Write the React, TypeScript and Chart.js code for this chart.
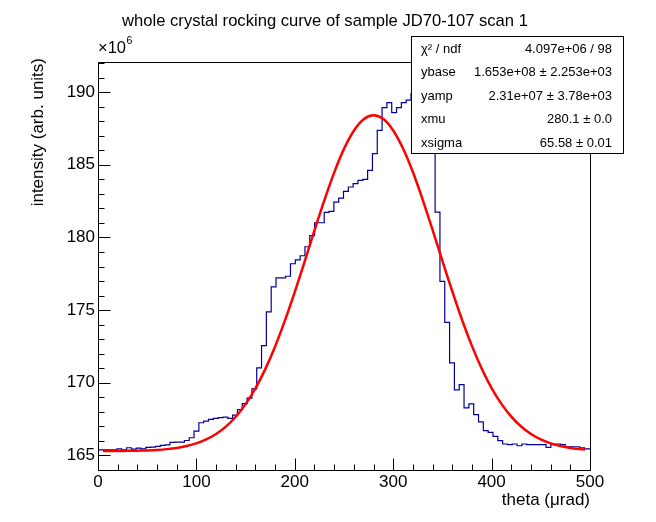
import { useEffect, useRef } from "react";
import { Chart, registerables } from "chart.js";

Chart.register(...registerables);

const chartTitle = "whole crystal rocking curve of sample JD70-107 scan 1";
const xAxisTitle = "theta (\u03bcrad)";
const yAxisTitle = "intensity (arb. units)";
const xTickValues = [0, 100, 200, 300, 400, 500];
const yTickValues = [165, 170, 175, 180, 185, 190];

// histogram: 103 bins, low edge of first bin and bin width (µrad)
const binFirstEdge = -0.4;
const binWidth = 4.9;
// bin contents in units of 1e6
const histValues = [
  165.39, 165.39, 165.39, 165.39, 165.46, 165.39, 165.53, 165.44, 165.5, 165.46,
  165.55, 165.57, 165.62, 165.69, 165.73, 165.9, 165.92, 165.92, 166.03, 166.22,
  166.67, 167.25, 167.36, 167.48, 167.55, 167.6, 167.64, 167.55, 167.78, 168.15,
  168.56, 168.95, 169.58, 171.03, 172.56, 174.88, 176.6, 177.22, 177.22, 177.33,
  178.19, 178.46, 178.74, 179.36, 180.12, 181.01, 181.01, 181.72, 181.79, 182.43,
  182.71, 183.17, 183.47, 183.7, 183.93, 183.99, 184.61, 185.76, 187.37, 188.93,
  189.28, 188.59, 188.93, 189.28, 189.44, 189.9, 190.3, 190.6, 190.5, 190.0,
  181.74, 176.97, 174.15, 171.37, 169.51, 169.88, 168.27, 168.55, 167.81, 167.31,
  166.71, 166.59, 166.32, 166.02, 165.79, 165.74, 165.79, 165.67, 165.79, 165.74,
  165.74, 165.74, 165.74, 165.56, 165.74, 165.79, 165.74, 165.6, 165.6, 165.6,
  165.52, 165.45, 165.45,
];

// fitted curve
const fitTheta = [
  5, 10, 20, 30, 40, 50, 60, 70, 80, 90, 100, 110, 120, 130, 140, 150, 160, 170, 180, 190,
  200, 210, 220, 230, 240, 250, 260, 270, 280, 290, 300, 310, 320, 330, 340, 350, 360, 370,
  380, 390, 400, 410, 420, 430, 440, 450, 460, 470, 480, 490, 495,
];
const fitValues = [
  165.303, 165.305, 165.309, 165.316, 165.328, 165.349, 165.383, 165.436, 165.519, 165.646,
  165.831, 166.099, 166.473, 166.98, 167.66, 168.53, 169.62, 170.94, 172.5, 174.29,
  176.26, 178.34, 180.49, 182.55, 184.46, 186.09, 187.34, 188.13, 188.4, 188.14,
  187.36, 186.12, 184.5, 182.59, 180.52, 178.39, 176.3, 174.32, 172.54, 170.97,
  169.64, 168.55, 167.67, 166.99, 166.48, 166.11, 165.836, 165.65, 165.52, 165.44, 165.41,
];

const statsLabels = ["\u03c7\u00b2 / ndf", "ybase", "yamp", "xmu", "xsigma"];
const statsValues = [
  "4.097e+06 / 98",
  "1.653e+08 \u00b1 2.253e+03",
  "2.31e+07 \u00b1 3.78e+03",
  "280.1 \u00b1 0.0",
  "65.58 \u00b1 0.01",
];

const FONT = "'Liberation Sans', Arial, Helvetica, sans-serif";

const decorPlugin = {
  id: "rootDecor",
  afterDatasetsDraw(chart: any) {
    const { ctx, chartArea: a, scales } = chart;
    const xs = scales.x;
    const ys = scales.y;
    ctx.save();
    ctx.strokeStyle = "#000";
    ctx.lineWidth = 1;
    const L = Math.round(a.left) + 0.5;
    const R = Math.round(a.right) + 0.5;
    const T = Math.round(a.top) - 0.5;
    const B = Math.round(a.bottom) + 0.5;
    ctx.beginPath();
    ctx.moveTo(L, T);
    ctx.lineTo(R, T);
    ctx.lineTo(R, B);
    ctx.lineTo(L, B);
    ctx.closePath();
    ctx.stroke();
    // y ticks (inward)
    ctx.beginPath();
    for (let v = 164; v <= 192; v += 1) {
      const p = Math.round(ys.getPixelForValue(v)) + 0.5;
      const len = v % 5 === 0 ? 12 : 6;
      ctx.moveTo(L, p);
      ctx.lineTo(L + len, p);
    }
    // x ticks (inward)
    for (let v = 0; v <= 500; v += 20) {
      const p = Math.round(xs.getPixelForValue(v)) + 0.5;
      const len = v % 100 === 0 ? 12 : 6;
      ctx.moveTo(p, B);
      ctx.lineTo(p, B - len);
    }
    ctx.stroke();

    ctx.fillStyle = "#000";
    // title
    ctx.font = `16.6px ${FONT}`;
    ctx.textAlign = "center";
    ctx.textBaseline = "alphabetic";
    ctx.fillText(chartTitle, 325, 26);
    // exponent
    ctx.textAlign = "left";
    ctx.font = `16.5px ${FONT}`;
    ctx.fillText("\u00d710", 98, 53);
    const w = ctx.measureText("\u00d710").width;
    ctx.font = `10.5px ${FONT}`;
    ctx.fillText("6", 98 + w + 0.5, 44);
    // x axis title
    ctx.font = `17px ${FONT}`;
    ctx.textAlign = "right";
    ctx.fillText(xAxisTitle, a.right, 505);
    // y axis title
    ctx.save();
    ctx.translate(43, 58);
    ctx.rotate(-Math.PI / 2);
    ctx.textAlign = "right";
    ctx.fillText(yAxisTitle, 0, 0);
    ctx.restore();
    ctx.restore();
  },
  afterDraw(chart: any) {
    const { ctx } = chart;
    ctx.save();
    const bx = 411.5, by = 36.5, bw = 212, bh = 117;
    ctx.fillStyle = "#fff";
    ctx.fillRect(bx, by, bw, bh);
    ctx.strokeStyle = "#000";
    ctx.lineWidth = 1;
    ctx.strokeRect(bx, by, bw, bh);
    ctx.fillStyle = "#000";
    ctx.font = `13px ${FONT}`;
    ctx.textBaseline = "alphabetic";
    for (let i = 0; i < statsLabels.length; i++) {
      const y = 52.5 + 23.5 * i;
      ctx.textAlign = "left";
      ctx.fillText(statsLabels[i], 421, y);
      ctx.textAlign = "right";
      ctx.fillText(statsValues[i], 612, y);
    }
    ctx.restore();
  },
};

export default function App() {
  const ref = useRef<HTMLCanvasElement | null>(null);

  useEffect(() => {
    if (!ref.current) return;
    const histPoints = histValues.map((v, i) => ({ x: binFirstEdge + i * binWidth, y: v }));
    histPoints.push({
      x: binFirstEdge + histValues.length * binWidth,
      y: histValues[histValues.length - 1],
    });
    const fitPoints = fitTheta.map((t, i) => ({ x: t, y: fitValues[i] }));

    const chart = new Chart(ref.current, {
      type: "line",
      data: {
        datasets: [
          {
            label: "fit",
            data: fitPoints,
            borderColor: "#ff0000",
            borderWidth: 2.5,
            pointRadius: 0,
            tension: 0.3,
            fill: false,
          },
          {
            label: "hist",
            data: histPoints,
            borderColor: "#00009c",
            borderWidth: 1.2,
            pointRadius: 0,
            stepped: true,
            fill: false,
          },
        ],
      },
      options: {
        animation: false,
        responsive: false,
        devicePixelRatio: 1,
        events: [],
        layout: { padding: { left: 0, top: 63, right: 66, bottom: 0 } },
        plugins: {
          legend: { display: false },
          tooltip: { enabled: false },
          title: { display: false },
        },
        scales: {
          x: {
            type: "linear",
            min: 0,
            max: 500,
            grid: { display: false, drawTicks: false },
            border: { display: false },
            afterBuildTicks: (s: any) => {
              s.ticks = xTickValues.map((v) => ({ value: v }));
            },
            afterFit: (s: any) => {
              s.height = 52;
            },
            ticks: {
              padding: 2,
              maxRotation: 0,
              autoSkip: false,
              color: "#000",
              font: { family: FONT, size: 17 },
            },
          },
          y: {
            type: "linear",
            min: 164,
            max: 192,
            grid: { display: false, drawTicks: false },
            border: { display: false },
            afterBuildTicks: (s: any) => {
              s.ticks = yTickValues.map((v) => ({ value: v }));
            },
            afterFit: (s: any) => {
              s.width = 98;
            },
            ticks: {
              padding: 3,
              autoSkip: false,
              color: "#000",
              font: { family: FONT, size: 17 },
            },
          },
        },
      },
      plugins: [decorPlugin],
    } as any);
    return () => chart.destroy();
  }, []);

  return (
    <div style={{ position: "absolute", left: 0, top: 0, width: 656, height: 522, background: "#fff" }}>
      <canvas ref={ref} width={656} height={522} style={{ display: "block" }} />
    </div>
  );
}
